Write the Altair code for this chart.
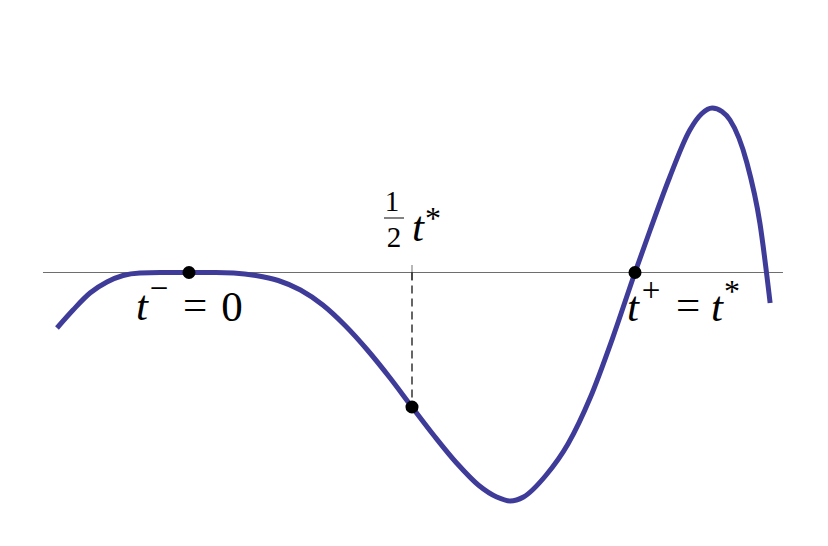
import altair as alt
import pandas as pd

# ---- data ----
curve_t = [-0.296, -0.260, -0.222, -0.184, -0.148, -0.110, -0.065, 0.000, 0.060, 0.100,
           0.150, 0.200, 0.250, 0.300, 0.350, 0.400, 0.450, 0.500, 0.550, 0.600,
           0.650, 0.690, 0.720, 0.750, 0.800, 0.850, 0.900, 0.950, 1.000, 1.034,
           1.078, 1.123, 1.150, 1.173, 1.195, 1.213, 1.251, 1.280, 1.303]
curve_v = [-0.555, -0.375, -0.205, -0.095, -0.030, -0.005, 0.000, 0.000, 0.000, -0.005,
           -0.030, -0.080, -0.175, -0.325, -0.530, -0.775, -1.050, -1.345, -1.635, -1.905,
           -2.130, -2.245, -2.285, -2.245, -2.030, -1.713, -1.248, -0.653, 0.000, 0.425,
           0.955, 1.425, 1.590, 1.645, 1.610, 1.525, 1.095, 0.495, -0.305]

axis_t = [-0.3274, 1.3318]
marked_t = [0.0, 0.5, 1.0]
marked_v = [0.0, -1.345, 0.0]

# label glyphs: text, anchor t
glyph_text = ["t", "\u2212", "=", "0",
              "1", "2", "t", "*",
              "t", "+", "=", "t", "*"]
glyph_anchor = [0.0, 0.0, 0.0, 0.0,
                0.5, 0.5, 0.5, 0.5,
                1.0, 1.0, 1.0, 1.0, 1.0]

# ---- styling (pixel offsets, sizes, styles) ----
glyph_style = [
    dict(dx=-47, dy=47.5, size=43, italic=True),
    dict(dx=-30, dy=26, size=33, italic=False),
    dict(dx=6, dy=46, size=43, italic=False),
    dict(dx=43, dy=48, size=43, italic=False),
    dict(dx=-20, dy=-61.5, size=29, italic=False),
    dict(dx=-18, dy=-25.5, size=29, italic=False),
    dict(dx=6, dy=-31.5, size=43, italic=True),
    dict(dx=21, dy=-44, size=32, italic=False),
    dict(dx=-2, dy=48.5, size=43, italic=True),
    dict(dx=16, dy=28, size=33, italic=False),
    dict(dx=53, dy=46, size=43, italic=False),
    dict(dx=82, dy=48.5, size=43, italic=True),
    dict(dx=97, dy=29, size=32, italic=False),
]

X_DOM = [-181 / 446, 631 / 446]
Y_DOM = [-2.655, 2.645]
xs = alt.Scale(domain=X_DOM, nice=False, zero=False)
ys = alt.Scale(domain=Y_DOM, nice=False, zero=False)

curve_df = pd.DataFrame({"t": curve_t, "v": curve_v, "o": range(len(curve_t))})
axis_df = pd.DataFrame({"t": [axis_t[0]], "t2": [axis_t[1]], "v": [0.0]})
pts_df = pd.DataFrame({"t": marked_t, "v": marked_v})
half_df = pd.DataFrame({"t": [marked_t[1]], "v": [0.0], "v2": [marked_v[1]]})


def X(f="t"):
    return alt.X(f"{f}:Q", scale=xs, axis=None)


def Y(f="v"):
    return alt.Y(f"{f}:Q", scale=ys, axis=None)


axis_line = alt.Chart(axis_df).mark_rule(color="#6e6e6e", strokeWidth=1).encode(
    x=X(), x2="t2:Q", y=Y())

tick = alt.Chart(half_df).mark_tick(color="#333333", orient="vertical", size=15, thickness=1).encode(
    x=X(), y=Y())

dashed = alt.Chart(half_df).mark_rule(color="black", strokeWidth=1.2, strokeDash=[8, 5]).encode(
    x=X(), y=Y(), y2="v2:Q")

curve = alt.Chart(curve_df).mark_line(color="#3e3c98", strokeWidth=5, interpolate="monotone").encode(
    x=X(), y=Y(), order="o:Q")

points = alt.Chart(pts_df).mark_circle(color="black", opacity=1, size=170).encode(
    x=X(), y=Y())

bar_df = pd.DataFrame({"t": [marked_t[1]], "v": [0.0]})
frac_bar = alt.Chart(bar_df).mark_tick(color="black", orient="horizontal", size=20, thickness=1.4,
                                       xOffset=-18, yOffset=-54.5).encode(x=X(), y=Y())

layers = [axis_line, tick, dashed, curve, points, frac_bar]
for txt, anc, st in zip(glyph_text, glyph_anchor, glyph_style):
    df = pd.DataFrame({"t": [anc], "v": [0.0], "txt": [txt]})
    kw = dict(font="Liberation Serif", fontSize=st["size"], color="black",
              align="center", baseline="alphabetic", dx=st["dx"], dy=st["dy"])
    if st["italic"]:
        kw["fontStyle"] = "italic"
    layers.append(alt.Chart(df).mark_text(**kw).encode(x=X(), y=Y(), text="txt:N"))

chart = alt.layer(*layers).properties(
    width=812, height=530, padding=0, background="white",
    autosize=alt.AutoSizeParams(type="none")
).configure_view(stroke=None)

chart.save("out.html", embed_options={"renderer": "svg", "actions": False})
